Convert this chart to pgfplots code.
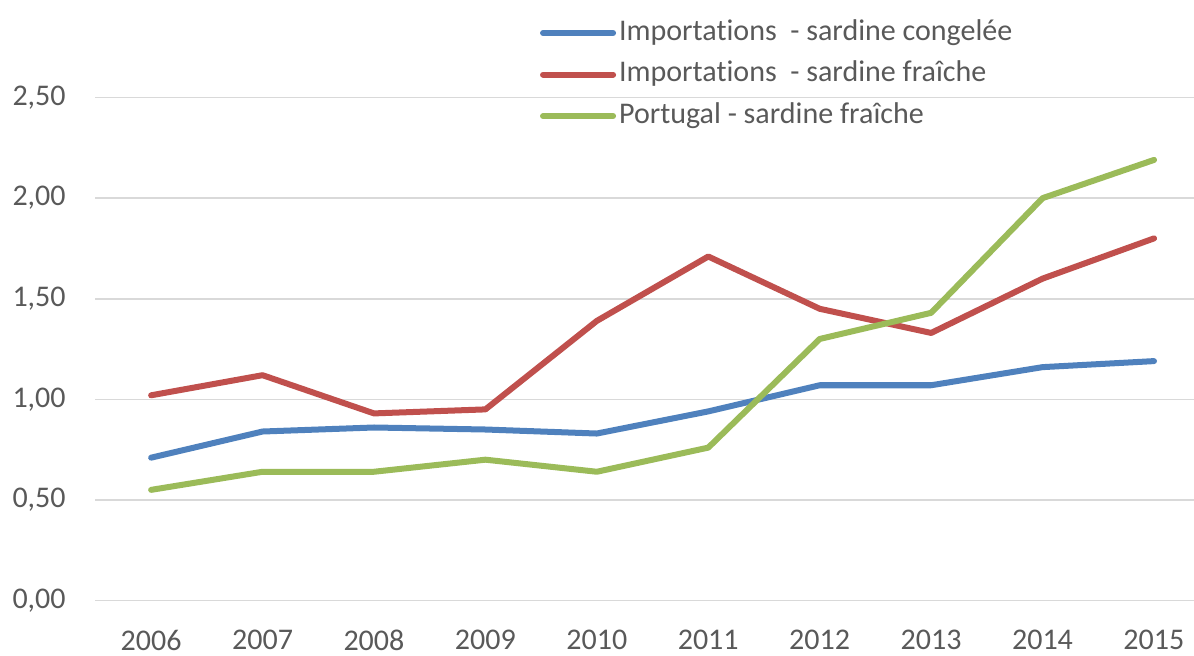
\documentclass[border=0pt]{standalone}
\usepackage{pgfplots}
\pgfplotsset{compat=1.18}
\usepackage{fontspec}
\setmainfont{Carlito}[Ligatures=NoCommon]
\definecolor{cblue}{HTML}{4F81BD}
\definecolor{cred}{HTML}{C0504D}
\definecolor{cgreen}{HTML}{9BBB59}
\definecolor{ctext}{HTML}{595959}
\definecolor{cgrid}{HTML}{D9D9D9}
\pgfplotsset{
  mylegend/.style={legend image code/.code={\draw[#1,line cap=round] (0pt,0pt) -- (35pt,0pt);}}
}
\begin{document}
\begin{tikzpicture}
\begin{axis}[
  at={(0,0)}, anchor=south west,
  scale only axis,
  width=549pt, height=298.5pt,
  xmin=2005.497, xmax=2015.359,
  ymin=0, ymax=2.97,
  axis line style={draw=none},
  major tick length=0pt,
  xtick={2006,...,2015},
  ytick={0,0.5,1,1.5,2,2.5},
  ymajorgrids,
  grid style={cgrid, line width=0.8pt},
  xticklabel style={inner sep=0pt, yshift=-14.5pt, font=\fontsize{15pt}{18pt}\selectfont, text=ctext},
  yticklabel style={inner sep=0pt, xshift=-14.5pt, font=\fontsize{15pt}{18pt}\selectfont, text=ctext},
  xticklabel={\pgfmathprintnumber[1000 sep={}]{\tick}},
  yticklabel={\pgfmathprintnumber[fixed, fixed zerofill, precision=2, use comma]{\tick}},
  /pgf/number format/assume math mode=true,
  clip=false,
  every axis plot/.append style={line width=3pt, line cap=round, line join=round, mark=none},
  mylegend,
  legend cell align=left,
  legend style={
    at={(axis cs:2009.49,2.97)}, anchor=north west, yshift=-8pt,
    draw=none, fill=none, inner sep=0pt, outer sep=0pt,
    column sep=1.5pt, row sep=6.75pt,
    font=\fontsize{15pt}{18pt}\selectfont, text=ctext,
    nodes={inner sep=0pt, text height=10.5pt, text depth=3.5pt},
  },
]
\addplot[cblue] coordinates {(2006,0.71) (2007,0.84) (2008,0.86) (2009,0.85) (2010,0.83) (2011,0.94) (2012,1.07) (2013,1.07) (2014,1.16) (2015,1.19)};
\addlegendentry{Importations\ \ - sardine congelée}
\addplot[cred] coordinates {(2006,1.02) (2007,1.12) (2008,0.93) (2009,0.95) (2010,1.39) (2011,1.71) (2012,1.45) (2013,1.33) (2014,1.60) (2015,1.80)};
\addlegendentry{Importations\ \ - sardine fraîche}
\addplot[cgreen] coordinates {(2006,0.55) (2007,0.64) (2008,0.64) (2009,0.70) (2010,0.64) (2011,0.76) (2012,1.30) (2013,1.43) (2014,2.00) (2015,2.19)};
\addlegendentry{Portugal - sardine fraîche}
\end{axis}
\pgfresetboundingbox
\path[use as bounding box] (-47.5pt,-27.5pt) rectangle (549pt,300pt);
\end{tikzpicture}
\end{document}
